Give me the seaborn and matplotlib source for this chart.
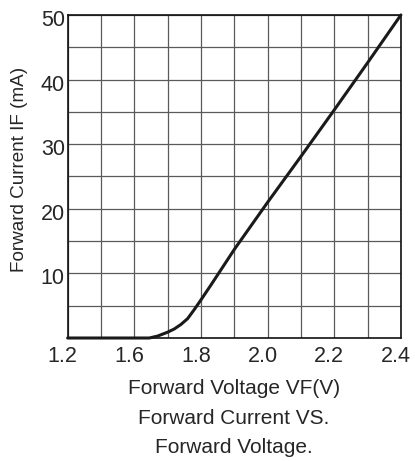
import numpy as np
import pandas as pd
import seaborn as sns
import matplotlib
matplotlib.use('Agg')
import matplotlib.pyplot as plt
from matplotlib.transforms import ScaledTranslation

# forward voltage (V) vs forward current (mA)
vf = [1.2, 1.4, 1.6, 1.645, 1.67, 1.7, 1.72, 1.74, 1.76, 1.78, 1.8, 1.83,
      1.9, 2.0, 2.1, 2.2, 2.3, 2.4]
i_f = [0, 0, 0, 0, 0.3, 0.9, 1.4, 2.1, 3.0, 4.4, 5.9, 8.2,
       13.7, 21.0, 28.1, 35.3, 42.6, 50]

x_major = [1.2, 1.6, 1.8, 2.0, 2.2, 2.4]
x_minor = [1.4, 1.7, 1.9, 2.1, 2.3]
y_major = [10, 20, 30, 40, 50]
y_minor = [5, 15, 25, 35, 45]

df = pd.DataFrame({'vf': vf, 'if': i_f})

sns.set_theme(style='white')
plt.rcParams['font.family'] = ['Liberation Sans', 'DejaVu Sans']
plt.rcParams['text.color'] = '#262626'
plt.rcParams['axes.labelcolor'] = '#262626'
plt.rcParams['xtick.color'] = '#262626'
plt.rcParams['ytick.color'] = '#262626'


# the datasheet squeezes 1.2-1.6 V into two columns, then 0.1 V per column
def fwd(v):
    v = np.asarray(v, dtype=float)
    return np.where(v < 1.6, (v - 1.2) / 0.2, 2 + (v - 1.6) / 0.1)


def inv(u):
    u = np.asarray(u, dtype=float)
    return np.where(u < 2, 1.2 + 0.2 * u, 1.6 + 0.1 * (u - 2))


fig = plt.figure(figsize=(4.15, 4.61), dpi=100)
ax = fig.add_axes([0.163, 0.2668, 0.803, 0.7007])
ax.set_xscale('function', functions=(fwd, inv))

sns.lineplot(data=df, x='vf', y='if', color='#1a1a1a', linewidth=2.2, ax=ax,
             sort=True, clip_on=False, zorder=5)

ax.set_xlim(1.2, 2.4)
ax.set_ylim(0, 50)
ax.set_xticks(x_major)
ax.set_xticks(x_minor, minor=True)
ax.set_xticklabels(['1.2', '1.6', '1.8', '2.0', '2.2', '2.4'])
ax.set_yticks(y_major)
ax.set_yticks(y_minor, minor=True)
ax.set_yticklabels([str(v) for v in y_major])

ax.grid(True, which='both', color='#5a5a5a', linewidth=0.9)
for s in ax.spines.values():
    s.set_color('#111111')
    s.set_linewidth(1.2)

ax.tick_params(axis='both', which='both', length=0, labelsize=15.5)
ax.tick_params(axis='x', pad=6)
ax.tick_params(axis='y', pad=2)

for lab in ax.get_xticklabels():
    lab.set_transform(lab.get_transform() + ScaledTranslation(-5 / 100, 0, fig.dpi_scale_trans))
for lab in ax.get_yticklabels():
    lab.set_transform(lab.get_transform() + ScaledTranslation(0, -3 / 100, fig.dpi_scale_trans))

ax.set_xlabel('Forward Voltage VF(V)', fontsize=15)
ax.xaxis.set_label_coords(0.5, -0.155)
ax.xaxis.label.set_va('center')
ax.set_ylabel('Forward Current IF (mA)', fontsize=13.6)
ax.yaxis.set_label_coords(-0.143, 0.523)
ax.yaxis.label.set_va('center')

fig.text(0.564, 1 - 418 / 461, 'Forward Current VS.', ha='center', va='center', fontsize=15)
fig.text(0.564, 1 - 447 / 461, 'Forward Voltage.', ha='center', va='center', fontsize=15)

fig.savefig('out.png', dpi=100)
